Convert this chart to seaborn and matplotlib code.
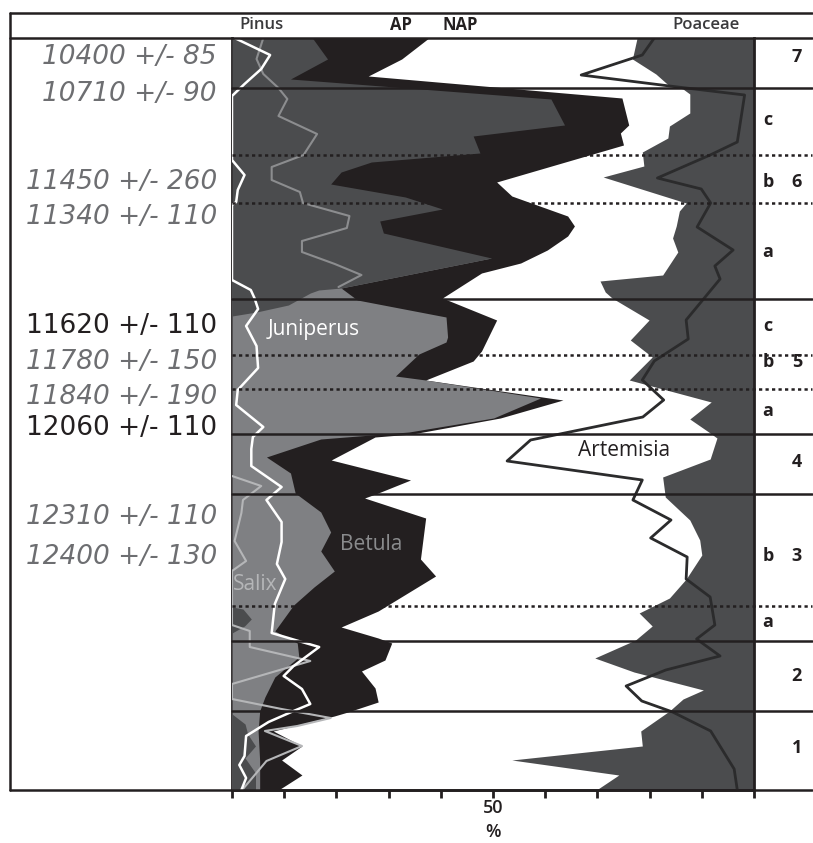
import numpy as np
import matplotlib
matplotlib.use("Agg")
import matplotlib.pyplot as plt
import seaborn as sns

# depth (arbitrary units from top of section) and cumulative percentage boundaries
pinus_depth = [0, 21, 41, 61, 87, 98, 115, 124, 134, 146, 159, 171, 183, 195, 220, 250, 252, 255, 267, 274, 278]
pinus_pct = [15.4, 18.3, 11.2, 61.1, 63.7, 46.2, 47.5, 26.7, 20.9, 18.9, 33.2, 40.3, 28.3, 29.0, 49.7, 20.9, 16.6, 15.0, 10.8, 4.7, 0.0]

pinus_mid_depth = [569, 571, 581, 588, 595]
pinus_mid_pct = [0.0, 2.1, 3.7, 2.4, 0.0]

pinus_low_depth = [676, 686, 696, 708, 720, 735, 752]
pinus_low_pct = [0.0, 2.5, 3.0, 4.5, 2.5, 4.5, 4.5]

juniperus_depth = [220, 250, 262, 279, 299, 304, 316, 338, 342, 360, 380, 394, 401, 419, 435, 455,
                   474, 494, 513, 533, 549, 567, 593, 605, 619, 639, 659, 673, 693, 723, 752]
juniperus_pct = [49.7, 20.9, 24.0, 41.0, 41.3, 41.0, 35.8, 31.3, 37.1, 59.1, 50.1, 33.9, 17.0, 6.6, 11.2, 12.1,
                 17.0, 18.9, 17.0, 19.6, 15.7, 11.8, 8.2, 12.5, 12.8, 8.2, 6.3, 5.3, 5.0, 5.3, 5.3]

# AP / NAP limit (right edge of Betula)
ap_depth = [0, 21, 38, 60, 87, 95, 107, 144, 158, 178, 188, 198, 212, 225, 235, 260, 282, 313, 323, 342,
            362, 380, 396, 399, 422, 442, 455, 460, 480, 521, 538, 573, 589, 600, 605, 622, 633, 650, 664,
            674, 678, 693, 708, 722, 737, 752]
ap_pct = [37.7, 32.5, 26.1, 74.7, 76.0, 74.4, 75.0, 50.7, 53.6, 64.3, 65.6, 64.3, 60.4, 55.3, 47.8, 40.3, 50.7,
          47.8, 46.2, 37.1, 63.4, 51.4, 34.5, 27.4, 19.0, 34.2, 28.0, 25.4, 37.1, 36.1, 39.0, 28.0, 20.9, 28.0,
          30.6, 29.3, 24.8, 27.4, 28.0, 22.2, 19.6, 7.9, 13.4, 9.5, 13.4, 8.9]

poaceae_depth = [0, 21, 36, 48, 51, 56, 75, 88, 100, 114, 128, 139, 165, 173, 188, 200, 214, 237, 243, 254,
                 260, 282, 302, 319, 342, 364, 381, 395, 400, 421, 439, 459, 482, 502, 517, 541, 560, 575,
                 588, 602, 620, 634, 652, 661, 673, 693, 708, 722, 737, 752]
poaceae_pct = [77.6, 76.7, 81.2, 83.8, 86.4, 87.7, 87.7, 83.8, 83.5, 78.6, 78.9, 71.1, 87.0, 85.7, 85.1, 84.4,
               85.4, 82.5, 70.5, 71.5, 72.8, 79.9, 76.3, 80.5, 76.1, 91.8, 87.7, 91.6, 92.9, 91.6, 82.5, 83.0,
               87.7, 89.6, 90.0, 87.0, 83.8, 78.0, 80.5, 77.3, 69.5, 77.0, 90.3, 86.4, 83.8, 78.3, 78.6, 53.6,
               74.1, 69.8]

artemisia_depth = [0, 17, 37, 48, 57, 104, 117, 140, 151, 165, 189, 212, 228, 241, 282, 301, 323, 342, 362,
                   379, 402, 423, 442, 462, 482, 500, 519, 541, 559, 587, 601, 618, 632, 648, 663, 674, 693,
                   731, 752]
artemisia_pct = [80.9, 78.6, 66.9, 83.8, 98.2, 96.8, 91.6, 81.5, 89.9, 91.7, 89.1, 96.0, 92.5, 93.5, 87.0,
                 87.4, 80.9, 78.6, 82.7, 78.7, 57.2, 52.7, 78.6, 76.8, 84.1, 80.2, 87.2, 87.0, 91.6, 92.5, 89.0,
                 93.5, 83.1, 75.5, 78.5, 84.4, 91.7, 96.2, 96.8]

white_depth = [0, 17, 31, 46, 58, 122, 137, 152, 164, 167, 242, 252, 260, 271, 288, 308, 330, 352, 367, 389,
               399, 411, 428, 449, 462, 484, 504, 526, 541, 566, 595, 602, 609, 628, 638, 651, 666, 673, 684,
               698, 718, 727, 740, 752]
white_pct = [0.5, 7.3, 5.6, 2.4, 0.0, 0.0, 2.4, 1.1, 0.8, 0.0, 0.0, 3.6, 4.3, 5.0, 2.7, 4.7, 5.0, 1.1, 0.8, 6.0,
             4.0, 3.7, 3.7, 9.5, 6.6, 9.5, 9.5, 8.6, 10.2, 8.2, 7.6, 12.1, 16.7, 11.8, 9.9, 13.4, 15.0, 11.8, 7.0,
             2.7, 2.4, 1.4, 2.7, 1.8]

grey_depth = [0, 21, 36, 50, 61, 78, 96, 117, 129, 142, 154, 165, 178, 190, 203, 214, 226, 237, 249]
grey_pct = [6.0, 4.7, 6.0, 8.9, 10.6, 8.9, 16.3, 13.7, 7.6, 7.6, 13.0, 13.6, 22.5, 22.0, 13.4, 13.4, 19.7, 24.8, 20.4]

salix_depth = [438, 448, 462, 475, 503, 523, 533, 587, 593, 609, 623, 646, 661, 671, 680, 688, 693, 708, 723, 751]
salix_pct = [0.0, 5.6, 2.1, 1.8, 0.5, 2.7, 0.0, 0.0, 3.4, 3.4, 15.0, 0.0, 0.0, 9.5, 18.9, 12.5, 6.3, 13.4, 6.6, 2.1]

solid_zones = [50, 260.5, 395.5, 455.5, 602.5, 672.7]
dotted_zones = [117, 165, 316.5, 350.8, 568]

dates = ["10400 +/- 85", "10710 +/- 90", "11450 +/- 260", "11340 +/- 110", "11620 +/- 110",
         "11780 +/- 150", "11840 +/- 190", "12060 +/- 110", "12310 +/- 110", "12400 +/- 130"]
date_depth = [19, 56, 144, 179, 288, 324, 359, 390, 479, 519]
date_black = [False, False, False, False, True, False, False, True, False, False]

zone_letters = ["c", "b", "a", "c", "b", "a", "b", "a"]
letter_depth = [82, 144, 214, 288, 324, 373, 518, 584]
zone_numbers = ["7", "6", "5", "4", "3", "2", "1"]
number_depth = [19, 144, 324, 424, 518, 638, 710]

x_ticks = list(range(0, 101, 10))

DARK = "#4b4c4e"
MID = "#7f8083"
BLACK = "#231f20"

sns.set_theme(style="white")
plt.rcParams["font.family"] = ["Open Sans", "DejaVu Sans"]

fig = plt.figure(figsize=(8.13, 8.43), dpi=100)
ax = fig.add_axes([232 / 813, 1 - 790 / 843, 522 / 813, 752 / 843])

# filled curves, painted from right to left
ax.fill_betweenx(poaceae_depth, poaceae_pct, 100, color=DARK, lw=0, zorder=1)
ax.fill_betweenx(ap_depth, 0, ap_pct, color=BLACK, lw=0, zorder=2)
ax.fill_betweenx(juniperus_depth, 0, juniperus_pct, color=MID, lw=0, zorder=3)
ax.fill_betweenx(pinus_depth, 0, pinus_pct, color=DARK, lw=0, zorder=4)
ax.fill_betweenx(pinus_mid_depth, 0, pinus_mid_pct, color=DARK, lw=0, zorder=4)
ax.fill_betweenx(pinus_low_depth, 0, pinus_low_pct, color=DARK, lw=0, zorder=4)

# line curves
for xs, ys, col, lw in [(grey_pct, grey_depth, "#8c8d8f", 1.5),
                        (salix_pct, salix_depth, "#b5b6b8", 1.5),
                        (white_pct, white_depth, "white", 1.8),
                        (artemisia_pct, artemisia_depth, "#2b2b2c", 2.0)]:
    sns.lineplot(x=xs, y=ys, orient="y", sort=False, estimator=None, color=col, lw=lw, ax=ax, zorder=5)

ax.set_xlim(0, 100)
ax.set_ylim(752, 0)

# zone boundaries
for d in solid_zones:
    ax.plot([0, 111.2], [d, d], color=BLACK, lw=1.8, clip_on=False, zorder=6)
for d in dotted_zones:
    ax.plot([0, 111.2], [d, d], color=BLACK, lw=1.8, ls=(0, (1.3, 1.3)), clip_on=False, zorder=6)

# frame of the whole table
for xs, ys in [([-42.5, 111.2], [-25, -25]), ([-42.5, 111.2], [-0.5, -0.5]),
               ([-42.5, 111.2], [752, 752]), ([-42.5, -42.5], [-25, 752])]:
    ax.plot(xs, ys, color=BLACK, lw=1.8, clip_on=False, zorder=7)

for s in ["left", "right", "bottom"]:
    ax.spines[s].set_color(BLACK)
    ax.spines[s].set_linewidth(2)
ax.spines["top"].set_visible(False)

ax.set_xticks(x_ticks)
ax.set_xticklabels([])
ax.tick_params(axis="x", bottom=True, direction="out", length=6, width=2, color=BLACK)
ax.set_yticks([])
ax.set_xlabel("")
ax.set_ylabel("")
ax.text(50, 770, "50", ha="center", va="center", fontsize=13, fontweight="semibold", color=BLACK, clip_on=False)
ax.text(50, 794, "%", ha="center", va="center", fontsize=13, fontweight="semibold", color=BLACK, clip_on=False)

# header
ax.text(5.7, -13, "Pinus", ha="center", va="center", fontsize=12, fontweight="semibold", color="#3a3a3c")
ax.text(32.4, -13, "AP", ha="center", va="center", fontsize=12, fontweight="bold", color=BLACK)
ax.text(43.7, -13, "NAP", ha="center", va="center", fontsize=12, fontweight="bold", color=BLACK)
ax.text(90.8, -13, "Poaceae", ha="center", va="center", fontsize=12, fontweight="semibold", color="#3a3a3c")

# taxon labels
ax.text(6.9, 291, "Juniperus", ha="left", va="center", fontsize=15, color="white", zorder=8)
ax.text(20.7, 507, "Betula", ha="left", va="center", fontsize=15, color="#8a8b8d", zorder=8)
ax.text(0.2, 546, "Salix", ha="left", va="center", fontsize=15, color="#b5b6b8", zorder=8)
ax.text(66.3, 413, "Artemisia", ha="left", va="center", fontsize=15, color=BLACK, zorder=8)

# radiocarbon dates
for lab, d, blk in zip(dates, date_depth, date_black):
    ax.text(-2.9, d, lab, ha="right", va="center", fontsize=19, family="DejaVu Sans",
            style="normal" if blk else "italic", color=BLACK if blk else "#6d6e71", clip_on=False)

# pollen zones
for lab, d in zip(zone_letters, letter_depth):
    ax.text(102.7, d, lab, ha="center", va="center", fontsize=13, fontweight="bold", color=BLACK)
for lab, d in zip(zone_numbers, number_depth):
    ax.text(108.2, d, lab, ha="center", va="center", fontsize=13, fontweight="bold", color=BLACK)

fig.savefig("out.png", dpi=100, facecolor="white")
